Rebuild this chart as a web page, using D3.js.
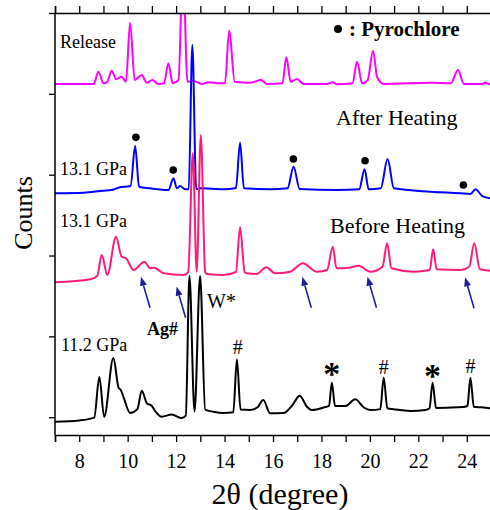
<!DOCTYPE html>
<html><head><meta charset="utf-8">
<script src="https://cdn.jsdelivr.net/npm/d3@7/dist/d3.min.js"></script>
<style>body{margin:0;background:#fff}svg{display:block}</style>
</head><body><svg id="chart" width="490" height="510"></svg>
<script>
// ---------- data ----------
const xTickValues = d3.range(7, 26);
const xLabelValues = [8, 10, 12, 14, 16, 18, 20, 22, 24];
const yTickValues = [0, 1000, 2000, 3000, 4000, 5000];

// 11.2 GPa (black) [2theta, counts]
const p112 = [[7.0,-56],[8.0,-40],[8.62,-5],[8.83,497],[9.03,5],[9.41,732],[9.62,370],[9.72,335],[9.85,230],[10.1,52],
  [10.4,100],[10.58,328],[10.8,170],[10.98,145],[11.15,70],[11.4,6],[11.82,33],[12.23,-10],[12.4,20],[12.55,1747],
  [12.76,68],[12.99,1747],[13.2,95],[13.54,68],[13.95,52],[14.36,60],[14.51,716],[14.66,95],[15.06,89],[15.35,120],
  [15.6,213],[15.88,48],[16.43,52],[16.8,150],[17.1,266],[17.4,130],[17.6,89],[18.16,126],[18.31,140],[18.43,427],
  [18.56,140],[18.98,139],[19.4,221],[19.75,120],[20.02,89],[20.43,100],[20.57,489],[20.72,110],[20.98,98],[21.67,77],
  [22.29,89],[22.46,110],[22.59,427],[22.73,115],[23.6,122],[23.94,130],[24.03,145],[24.15,489],[24.29,130],[24.6,122],[25.0,110]];

// 13.1 GPa before heating (pink)
const p131b = [[7.0,1669],[8.45,1706],[8.74,1747],[8.93,2006],[9.16,1759],[9.52,2233],[9.75,1985],[9.93,1966],[10.24,1821],
  [10.69,1924],[10.93,1842],[11.09,1849],[11.48,1780],[12.3,1759],[12.5,1796],[12.69,3264],[12.85,1800],[13.02,3491],
  [13.2,1796],[13.27,1771],[13.96,1759],[14.47,1796],[14.64,2349],[14.83,1796],[14.92,1780],[15.33,1771],[15.72,1854],
  [16.09,1780],[16.71,1800],[17.23,1904],[17.81,1800],[18.23,1821],[18.47,2109],[18.62,1842],[19.12,1849],[19.53,1874],
  [20.02,1800],[20.52,1862],[20.71,2151],[20.89,1842],[21.81,1800],[22.47,1821],[22.61,2077],[22.76,1830],[23.74,1821],
  [24.1,1862],[24.31,2151],[24.54,1830],[24.97,1812]];

// 13.1 GPa after heating (blue)
const p131a = [[7.0,2770],[8.17,2777],[9.0,2802],[9.34,2810],[9.62,2839],[10.12,2860],[10.31,3355],[10.47,2851],[10.93,2831],
  [11.68,2810],[11.89,2955],[12.03,2831],[12.17,2860],[12.37,2819],[12.52,2823],[12.67,4604],[12.83,2823],[13.0,2831],
  [13.96,2819],[14.47,2835],[14.64,3396],[14.8,2831],[15.88,2819],[16.6,2831],[16.85,3099],[17.1,2823],[18.64,2810],
  [19.56,2819],[19.78,3067],[19.95,2819],[20.45,2831],[20.73,3194],[20.99,2831],[22.5,2789],[23.74,2770],[24.15,2761],
  [24.36,2819],[24.64,2736],[25.0,2708]];

// Release (magenta)
const pRel = [[7.0,4122],[8.6,4122],[8.79,4274],[9.0,4130],[9.16,4150],[9.34,4286],[9.52,4180],[9.75,4212],[9.93,4150],
  [10.1,4880],[10.29,4171],[10.58,4233],[10.79,4138],[11.02,4171],[11.27,4122],[11.5,4130],[11.68,4378],[11.86,4130],
  [12.1,4171],[12.28,5600],[12.47,4150],[12.72,4159],[13.06,4122],[13.34,4143],[13.82,4130],[14.02,4134],[14.19,4781],
  [14.42,4150],[15.06,4138],[15.51,4171],[15.75,4122],[16.39,4130],[16.55,4452],[16.73,4150],[16.99,4184],[17.26,4122],
  [18.23,4122],[18.46,4143],[18.64,4118],[19.28,4130],[19.47,4398],[19.68,4130],[19.91,4171],[20.13,4534],[20.3,4205],
  [20.57,4122],[22.5,4138],[23.34,4130],[23.64,4295],[23.88,4122],[24.64,4122],[24.75,4138],[25.0,4109]];

const seriesLabels = ["11.2 GPa", "13.1 GPa", "13.1 GPa", "Release"];
const stateLabels = ["Before Heating", "After Heating"];
const legendText = ": Pyrochlore";

// pyrochlore dot positions (2theta, counts)
const pyroX = [10.34, 11.88, 16.84, 19.8, 23.86];
const pyroY = [3462, 3058, 3194, 3173, 2872];
// arrow heads (2theta, counts)
const arrowX = [10.55, 12.02, 17.21, 19.9, 23.93];
const arrowY = [1738, 1614, 1738, 1738, 1730];
// peak markers on the 11.2 GPa pattern
const markText = ["#", "*", "#", "*", "#"];
const markX = [14.54, 18.43, 20.57, 22.59, 24.15];
const markY = [782, 560, 536, 540, 548];

// ---------- drawing ----------
const svg = d3.select("#chart");
const L = 55, R = 491, T = 13, B = 435;
const x = d3.scaleLinear().domain([7, 25]).range([L, R]);
const y = d3.scaleLinear().domain([-220, 5000]).range([B, T]);
const serif = "'Liberation Serif','Times New Roman',serif";

svg.append("defs").append("clipPath").attr("id", "clip")
  .append("rect").attr("x", L).attr("y", T).attr("width", R - L).attr("height", B - T);

const line = d3.line().x(d => x(d[0])).y(d => y(d[1])).curve(d3.curveMonotoneX);
const plot = svg.append("g").attr("clip-path", "url(#clip)");
const series = [
  {data: pRel, color: "#ff00ff"},
  {data: p112, color: "#000000"},
  {data: p131a, color: "#0000ff"},
  {data: p131b, color: "#ff1a7a"}
];
series.forEach(s => plot.append("path").datum(s.data).attr("d", line)
  .attr("fill", "none").attr("stroke", s.color).attr("stroke-width", 2).attr("stroke-linejoin", "round"));

// axes
const axB = svg.append("g").attr("transform", `translate(0,${B})`)
  .call(d3.axisBottom(x).tickValues(xTickValues).tickSize(7).tickPadding(12)
    .tickFormat(d => xLabelValues.includes(d) ? d : ""));
const axT = svg.append("g").attr("transform", `translate(0,${T})`)
  .call(d3.axisTop(x).tickValues(xTickValues).tickSize(7).tickFormat(""));
const axL = svg.append("g").attr("transform", `translate(${L},0)`)
  .call(d3.axisLeft(y).tickValues(yTickValues).tickSize(6).tickFormat(""));
[axB, axT, axL].forEach(a => {
  a.select(".domain").attr("stroke", "#000").attr("stroke-width", 1.5);
  a.selectAll(".tick line").attr("stroke", "#000").attr("stroke-width", 1.3);
  a.selectAll(".tick text").attr("font-family", serif).attr("font-size", 20).attr("fill", "#000");
});
axL.select(".domain").attr("d", `M0,${T}V${B}`);

// axis titles
svg.append("text").attr("x", 280).attr("y", 504).attr("text-anchor", "middle")
  .attr("font-family", serif).attr("font-size", 30).text("2θ (degree)");
svg.append("text").attr("transform", `translate(32,213) rotate(-90)`).attr("text-anchor", "middle")
  .attr("font-family", serif).attr("font-size", 26).text("Counts");

// series labels
const lab = (tx, ty, t, size, weight) => svg.append("text").attr("x", tx).attr("y", ty)
  .attr("font-family", serif).attr("font-size", size).attr("font-weight", weight || "normal").text(t);
lab(61, 351, seriesLabels[0], 18);
lab(60, 227, seriesLabels[1], 18);
lab(60, 175, seriesLabels[2], 18);
lab(60, 48, seriesLabels[3], 18);
lab(330, 233, stateLabels[0], 22);
lab(336, 125, stateLabels[1], 22);
lab(147, 335, "Ag#", 18, "bold");
lab(207, 308, "W*", 20);

// legend
svg.append("circle").attr("cx", 338).attr("cy", 29).attr("r", 4).attr("fill", "#000");
lab(349, 36, legendText, 21, "bold");

// pyrochlore dots
svg.append("g").selectAll("circle").data(pyroX).join("circle")
  .attr("cx", d => x(d)).attr("cy", (d, i) => y(pyroY[i])).attr("r", 3.8).attr("fill", "#000");

// arrows
const arrowColor = "#1c1c9c";
const ag = svg.append("g");
arrowX.forEach((ax, i) => {
  const hx = x(ax), hy = y(arrowY[i]);
  const tx = hx + 9, ty = hy + 31;
  const ang = Math.atan2(hy - ty, hx - tx);
  const len = 9, w = 3.5;
  const bx = hx - len * Math.cos(ang), by = hy - len * Math.sin(ang);
  ag.append("line").attr("x1", tx).attr("y1", ty).attr("x2", bx).attr("y2", by)
    .attr("stroke", arrowColor).attr("stroke-width", 1.6);
  const px = -Math.sin(ang), py = Math.cos(ang);
  ag.append("path").attr("d", `M${hx},${hy}L${bx + w * px},${by + w * py}L${bx - w * px},${by - w * py}Z`)
    .attr("fill", arrowColor);
});

// peak markers
markX.forEach((mx, i) => {
  const star = markText[i] === "*";
  svg.append("text").attr("x", x(mx)).attr("y", y(markY[i]) + (star ? 13 : 0))
    .attr("text-anchor", "middle").attr("font-family", serif)
    .attr("font-size", star ? 34 : 20).attr("font-weight", star ? "bold" : "normal").text(markText[i]);
});
</script></body></html>
